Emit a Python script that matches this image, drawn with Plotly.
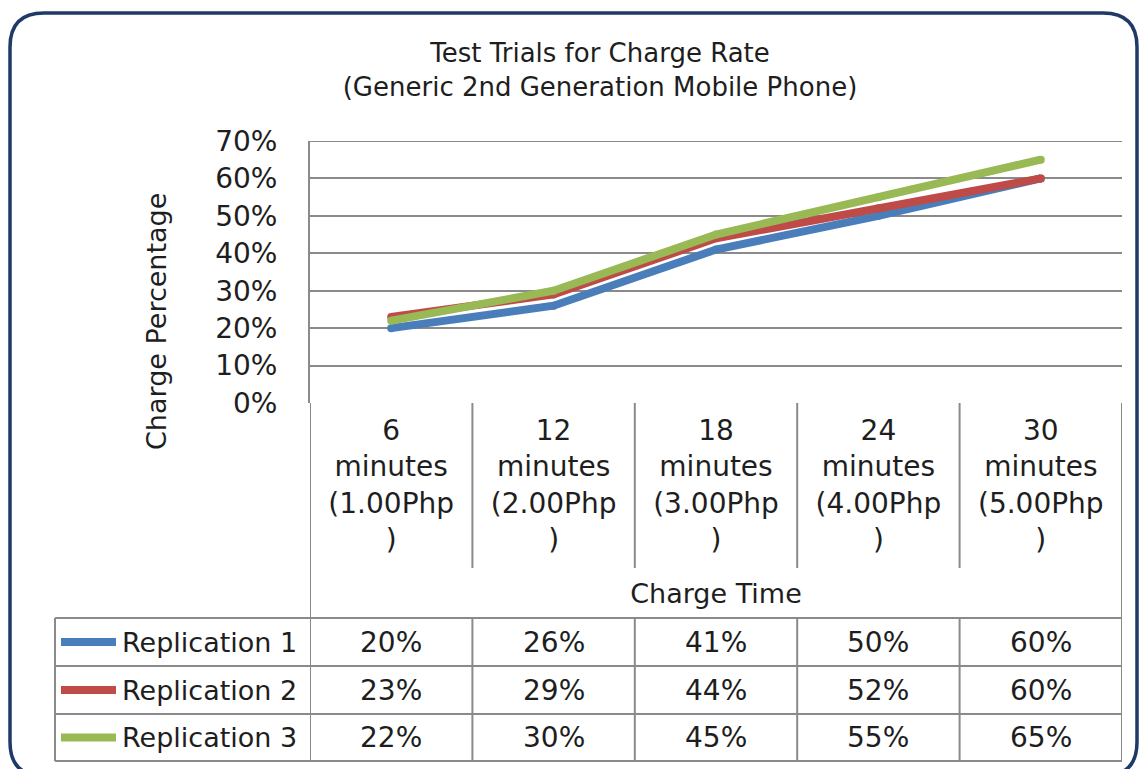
import plotly.graph_objects as go

W, H = 1140, 769

# ---------------- data ----------------
categories = ["6 minutes", "12 minutes", "18 minutes", "24 minutes", "30 minutes"]
category_labels = [
    "6<br>minutes<br>(1.00Php<br>)",
    "12<br>minutes<br>(2.00Php<br>)",
    "18<br>minutes<br>(3.00Php<br>)",
    "24<br>minutes<br>(4.00Php<br>)",
    "30<br>minutes<br>(5.00Php<br>)",
]
replication_1 = [0.20, 0.26, 0.41, 0.50, 0.60]
replication_2 = [0.23, 0.29, 0.44, 0.52, 0.60]
replication_3 = [0.22, 0.30, 0.45, 0.55, 0.65]
series_names = ["Replication 1", "Replication 2", "Replication 3"]
series_colors = ["#4A7EBB", "#BE4B48", "#98B954"]
y_ticks = [0, 0.1, 0.2, 0.3, 0.4, 0.5, 0.6, 0.7]

series_values = [replication_1, replication_2, replication_3]

FONT = "DejaVu Sans"
TXT = "#1e1e1e"
GRID = "#8a8a8a"


def px(x):
    return x / W


def py(y):
    return 1 - y / H


fig = go.Figure()
for name, vals, col in zip(series_names, series_values, series_colors):
    fig.add_trace(go.Scatter(
        x=categories, y=vals, name=name, mode="lines+markers",
        line=dict(color=col, width=8),
        marker=dict(color=col, size=8),
        showlegend=False, hoverinfo="skip",
    ))

# plot geometry (pixels)
X0, X1 = 310, 1122
Y_TOP, Y_BOT = 141, 403
CAT_BOT = 568
TABLE_ROWS = [618, 666, 714, 761]
TABLE_LEFT = 55

shapes = []
# top gridline (70%) drawn explicitly in data coordinates
shapes.append(dict(type="line", xref="paper", yref="y", x0=px(X0), x1=px(X1),
                   y0=y_ticks[-1], y1=y_ticks[-1], line=dict(color=GRID, width=2)))
# category separators
for b in [0.5, 1.5, 2.5, 3.5]:
    shapes.append(dict(type="line", xref="x", yref="paper", x0=b, x1=b,
                       y0=py(Y_BOT), y1=py(CAT_BOT), line=dict(color=GRID, width=2)))
    shapes.append(dict(type="line", xref="x", yref="paper", x0=b, x1=b,
                       y0=py(TABLE_ROWS[0]), y1=py(TABLE_ROWS[-1]), line=dict(color=GRID, width=2)))
for b in [-0.5, 4.5]:
    shapes.append(dict(type="line", xref="x", yref="paper", x0=b, x1=b,
                       y0=py(Y_BOT), y1=py(TABLE_ROWS[-1]), line=dict(color=GRID, width=2)))
# table horizontal lines
for ry in TABLE_ROWS:
    shapes.append(dict(type="line", xref="paper", yref="paper", x0=px(TABLE_LEFT), x1=px(X1),
                       y0=py(ry), y1=py(ry), line=dict(color=GRID, width=2)))
shapes.append(dict(type="line", xref="paper", yref="paper", x0=px(TABLE_LEFT), x1=px(TABLE_LEFT),
                   y0=py(TABLE_ROWS[0]), y1=py(TABLE_ROWS[-1]), line=dict(color=GRID, width=2)))

annotations = []
row_centers = [(TABLE_ROWS[i] + TABLE_ROWS[i + 1]) / 2 for i in range(3)]
for name, vals, col, rc in zip(series_names, series_values, series_colors, row_centers):
    shapes.append(dict(type="line", xref="paper", yref="paper", x0=px(61), x1=px(116),
                       y0=py(rc), y1=py(rc), line=dict(color=col, width=8)))
    annotations.append(dict(text=name, xref="paper", yref="paper", x=px(120), y=py(rc),
                            xanchor="left", yanchor="middle", showarrow=False,
                            font=dict(family=FONT, size=27, color=TXT)))
    for c, v in zip(categories, vals):
        annotations.append(dict(text=f"{v:.0%}", xref="x", yref="paper", x=c, y=py(rc),
                                xanchor="center", yanchor="middle", showarrow=False,
                                font=dict(family=FONT, size=28, color=TXT)))

# y-axis title
annotations.append(dict(text="Charge Percentage", xref="paper", yref="paper", x=px(156), y=py(322),
                        textangle=-90, showarrow=False, xanchor="center", yanchor="middle",
                        font=dict(family=FONT, size=27, color=TXT)))

# outer rounded border
bx0, by0, bx1, by1, r = 10, 13, 1137, 776, 34
path = (f"M {px(bx0 + r)},{py(by0)} L {px(bx1 - r)},{py(by0)} "
        f"Q {px(bx1)},{py(by0)} {px(bx1)},{py(by0 + r)} "
        f"L {px(bx1)},{py(by1 - r)} Q {px(bx1)},{py(by1)} {px(bx1 - r)},{py(by1)} "
        f"L {px(bx0 + r)},{py(by1)} Q {px(bx0)},{py(by1)} {px(bx0)},{py(by1 - r)} "
        f"L {px(bx0)},{py(by0 + r)} Q {px(bx0)},{py(by0)} {px(bx0 + r)},{py(by0)} Z")
shapes.append(dict(type="path", xref="paper", yref="paper", path=path,
                   line=dict(color="#1F3A68", width=3.5)))

fig.update_layout(
    width=W, height=H, autosize=False,
    margin=dict(l=0, r=0, t=0, b=0, pad=0),
    paper_bgcolor="white", plot_bgcolor="white",
    font=dict(family=FONT, color=TXT),
    title=dict(
        text="Test Trials for Charge Rate<br>(Generic 2nd Generation Mobile Phone)",
        x=px(600), xanchor="center", xref="paper",
        y=py(62), yanchor="middle", yref="container",
        font=dict(family=FONT, size=26, color=TXT),
        automargin=False,
    ),
    xaxis=dict(
        type="category", categoryorder="array", categoryarray=categories,
        tickvals=categories, ticktext=category_labels,
        range=[-0.5, 4.5], domain=[px(X0), px(X1)],
        showgrid=False, showline=False, zeroline=False, ticks="",
        automargin=False, ticklabelstandoff=8,
        tickfont=dict(family=FONT, size=28, color=TXT),
        title=dict(text="Charge Time", standoff=28,
                   font=dict(family=FONT, size=27, color=TXT)),
    ),
    yaxis=dict(
        range=[0, 0.7], tickvals=y_ticks, tickformat=".0%",
        domain=[py(Y_BOT), py(Y_TOP)],
        showgrid=True, gridcolor=GRID, gridwidth=2,
        showline=True, linecolor=GRID, linewidth=2,
        zeroline=False, ticks="", ticklabelstandoff=25,
        automargin=False,
        tickfont=dict(family=FONT, size=28, color=TXT),
    ),
    shapes=shapes,
    annotations=annotations,
)

fig.write_html("out.html", config={"displayModeBar": False},
               post_script="document.body.style.margin='0px';")
